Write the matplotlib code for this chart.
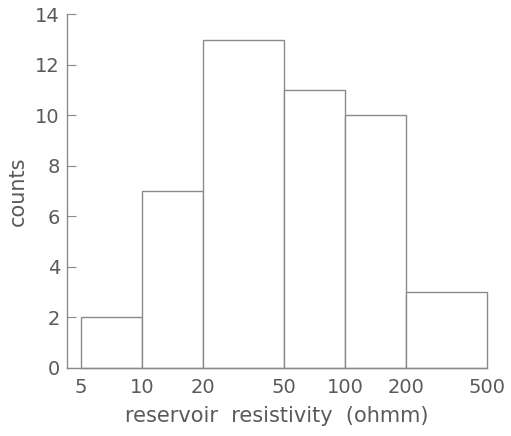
import matplotlib
matplotlib.use("Agg")
import matplotlib.pyplot as plt

bin_edges = [5, 10, 20, 50, 100, 200, 500]
counts = [2, 7, 13, 11, 10, 3]
xtick_labels = ["5", "10", "20", "50", "100", "200", "500"]
yticks = [0, 2, 4, 6, 8, 10, 12, 14]

line_col = "#8a8a8a"
text_col = "#5a5a5a"

plt.rcParams['font.family'] = ['DejaVu Sans']

fig = plt.figure(figsize=(5.11, 4.36), dpi=100)
ax = fig.add_axes([0.131, 0.156, 0.822, 0.811])

lefts = bin_edges[:-1]
widths = [b - a for a, b in zip(bin_edges[:-1], bin_edges[1:])]
bars = ax.bar(lefts, counts, width=widths, align='edge', facecolor='white',
              edgecolor=line_col, linewidth=1.0)
for b in bars:
    b.set_clip_on(False)

ax.set_xscale('log')
ax.set_xlim(4.27, 500)
ax.set_ylim(0, 14)
ax.set_xticks(bin_edges)
ax.set_xticklabels(xtick_labels)
ax.minorticks_off()
ax.set_yticks(yticks)

for s in ['top', 'right']:
    ax.spines[s].set_visible(False)
for s in ['left', 'bottom']:
    ax.spines[s].set_color(line_col)
    ax.spines[s].set_linewidth(1.0)

ax.tick_params(axis='y', direction='in', length=6.5, color=line_col,
               labelcolor=text_col, labelsize=14, pad=5)
ax.tick_params(axis='x', length=0, labelcolor=text_col, labelsize=14, pad=7)

ax.set_xlabel("reservoir  resistivity  (ohmm)", color=text_col, fontsize=15, labelpad=7)
ax.set_ylabel("counts", color=text_col, fontsize=15, labelpad=5)

fig.savefig("out.png", dpi=100)
